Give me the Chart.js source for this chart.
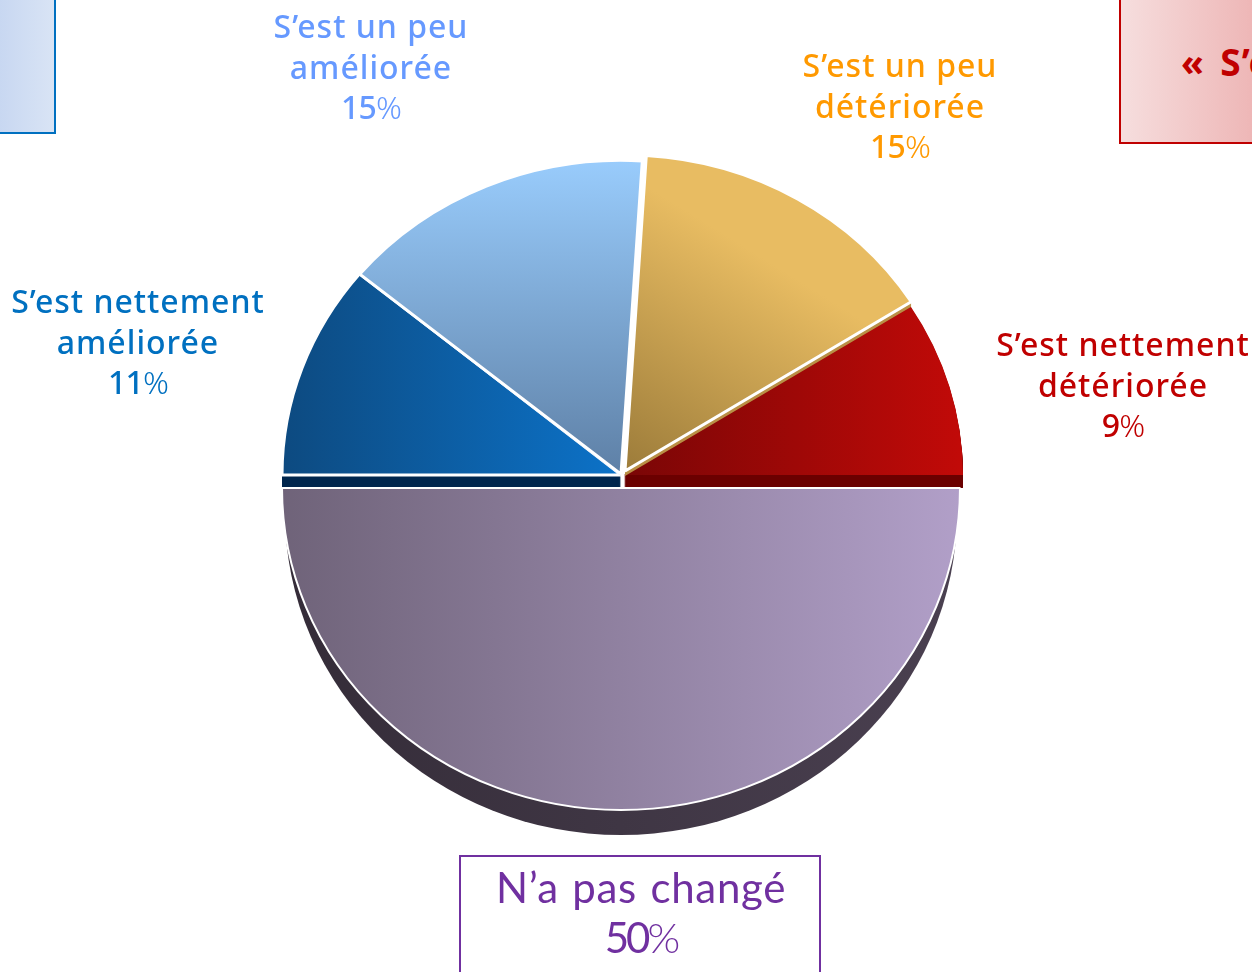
<!DOCTYPE html>
<html lang="fr">
<head>
<meta charset="utf-8">
<title>Camembert</title>
<script src="https://cdn.jsdelivr.net/npm/chart.js@4"></script>
<style>
  html, body { margin: 0; padding: 0; background: #fff; }
  #page { position: relative; width: 1252px; height: 972px; overflow: hidden; font-family: "Noto Sans", sans-serif; }
  #pie { position: absolute; left: 0; top: 0; }
  .label { position: absolute; text-align: center; white-space: nowrap; font-size: 32px; font-weight: 500; line-height: 40.5px; transform: translateX(-50%); letter-spacing: 1px; }
  .label .last { letter-spacing: -0.8px; }
  .label .pct { font-weight: 300; }
  .box { position: absolute; box-sizing: border-box; border-style: solid; border-width: 2px; }
  #boxLeft { left: -20px; top: -20px; width: 76px; height: 154px; border-color: #0070c0; background: linear-gradient(90deg, #c2d3f0, #d9e4f5); }
  #boxRight { left: 1119px; top: -20px; width: 150px; height: 164px; border-color: #c00000; background: linear-gradient(90deg, #f6dede, #edb2b2); }
  #boxRight span { position: absolute; left: 60px; top: 54px; font: bold 37px "Noto Sans", sans-serif; word-spacing: 5px; letter-spacing: 1px; color: #c00000; white-space: nowrap; }
  #boxBottom { left: 459px; top: 855px; width: 362px; height: 140px; border-color: #7030a0; }
  #labelBottom { font-family: Lato, sans-serif; font-size: 42px; font-weight: 400; line-height: 50px; letter-spacing: 0.7px; word-spacing: 2px; }
  #labelBottom .last { letter-spacing: -3px; }
</style>
</head>
<body>
<div id="page">
  <canvas id="pie" width="1252" height="972"></canvas>
  <div class="box" id="boxLeft"></div>
  <div class="box" id="boxRight"><span>« S’est</span></div>
  <div class="box" id="boxBottom"></div>
</div>
<script>
const categories = ["S’est un peu détériorée", "S’est nettement détériorée", "N’a pas changé", "S’est nettement améliorée", "S’est un peu améliorée"];
const labelLines = [["S’est un peu", "détériorée"], ["S’est nettement", "détériorée"], ["N’a pas changé"], ["S’est nettement", "améliorée"], ["S’est un peu", "améliorée"]];
const values = [15, 9, 50, 11, 15];

// where each label sits, same order as the categories
const labelColors = ["#ff9900", "#c00000", "#7030a0", "#0070c0", "#6699ff"];
const labelX = [900, 1123, 641, 138, 371];
const labelY = [45, 324, 862, 281, 6];

// the slices are pulled apart a bit and flattened like the 3D original
const shiftX = [3, 2, -1, -1, -1];
const shiftY = [-4, 0, 13, 0, -1];
const flatten = [0.932, 0.932, 0.95, 0.932, 0.925];
const depthColors = ["#b98f45", "#6b0000", "#3c3545", "#00264d", "#dce9f8"];
const depths = [5, 13, 25, 13, 2];

const page = document.getElementById("page");
const canvas = document.getElementById("pie");
const ctx = canvas.getContext("2d");

function gradient(x0, y0, x1, y1, from, to) {
  const g = ctx.createLinearGradient(x0, y0, x1, y1);
  g.addColorStop(0, from);
  g.addColorStop(1, to);
  return g;
}

const fills = [
  gradient(640, 470, 780, 260, "#a07f3c", "#e8bc62"),
  gradient(623, 0, 963, 0, "#7a0606", "#c20a08"),
  gradient(282, 0, 960, 0, "#6f6379", "#b19fc8"),
  gradient(282, 0, 620, 0, "#0d4a80", "#0c72c8"),
  gradient(0, 136, 0, 475, "#99ccfc", "#5e80a6")
];
const depthFill = gradient(282, 0, 960, 0, "#342c38", "#4a4050");

function placeArc(c, arc, i) {
  c.translate(shiftX[i], arc.y + shiftY[i]);
  c.scale(1, flatten[i]);
  c.translate(0, -arc.y);
}

// straight rim under an upper slice: the slice swept down pixel by pixel
function drawRim(c, arc, i) {
  c.fillStyle = depthColors[i];
  for (let k = 1; k <= depths[i]; k++) {
    c.save();
    c.translate(0, k);
    placeArc(c, arc, i);
    c.beginPath();
    c.moveTo(arc.x, arc.y);
    c.arc(arc.x, arc.y, arc.outerRadius, arc.startAngle, arc.endAngle);
    c.closePath();
    c.fill();
    c.restore();
  }
}

function drawFace(c, arc, i) {
  c.save();
  placeArc(c, arc, i);
  arc.draw(c);
  c.restore();
}

const flatPie = {
  id: "flatPie",
  beforeDatasetDraw(chart) {
    const c = chart.ctx;
    const arcs = chart.getDatasetMeta(0).data;

    // rim of the round part, a little narrower than the top face
    const mid = arcs[2];
    c.save();
    c.translate(shiftX[2], mid.y + shiftY[2] + depths[2]);
    c.scale(1, flatten[2] * mid.outerRadius / (mid.outerRadius - 3));
    c.beginPath();
    c.arc(mid.x, 0, mid.outerRadius - 3, 0, Math.PI);
    c.closePath();
    c.fillStyle = depthFill;
    c.fill();
    c.restore();

    [1, 3].forEach(i => drawRim(c, arcs[i], i));
    [1, 3].forEach(i => drawFace(c, arcs[i], i));
    [4, 0].forEach(i => drawRim(c, arcs[i], i));
    [4, 0, 2].forEach(i => drawFace(c, arcs[i], i));
    return false;
  }
};

new Chart(ctx, {
  type: "pie",
  data: {
    labels: categories,
    datasets: [{
      data: values,
      backgroundColor: fills,
      borderColor: ["#fff", "rgba(255,255,255,0)", "#fff", "#fff", "#fff"],
      borderWidth: [3, 0, 2, 3, 3],
      clip: false
    }]
  },
  options: {
    responsive: false,
    animation: false,
    rotation: 3.6,
    radius: 339,
    layout: { padding: { right: 8, bottom: 22 } },
    plugins: { legend: { display: false }, tooltip: { enabled: false } }
  },
  plugins: [flatPie]
});

// labels as real text, built from the same arrays
categories.forEach((name, i) => {
  const el = document.createElement("div");
  el.className = "label";
  if (i === 2) el.id = "labelBottom";
  el.style.left = labelX[i] + "px";
  el.style.top = labelY[i] + "px";
  el.style.color = labelColors[i];
  labelLines[i].forEach(line => {
    el.appendChild(document.createTextNode(line));
    el.appendChild(document.createElement("br"));
  });
  const last = document.createElement("span");
  last.className = "last";
  last.textContent = values[i];
  const pct = document.createElement("span");
  pct.className = "pct";
  pct.textContent = "%";
  last.appendChild(pct);
  el.appendChild(last);
  page.appendChild(el);
});
</script>
</body>
</html>
